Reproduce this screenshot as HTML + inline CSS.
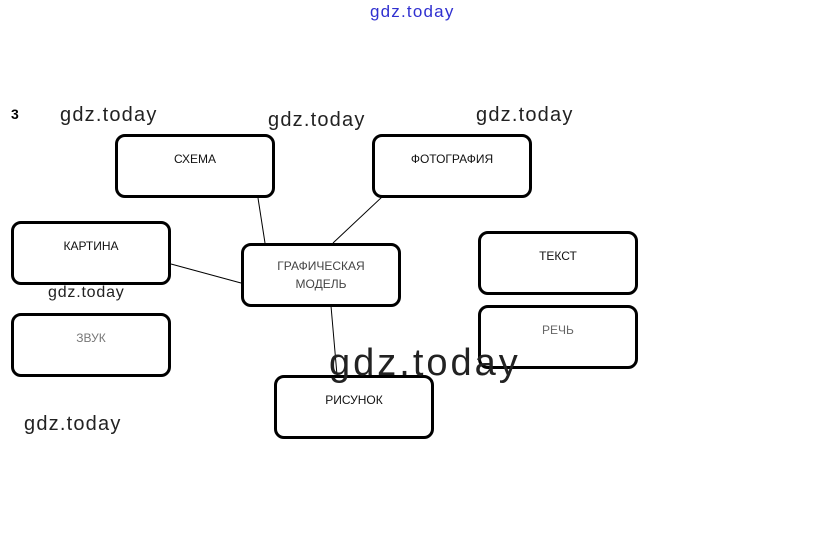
<!DOCTYPE html>
<html><head><meta charset="utf-8"><style>
body{margin:0;width:823px;height:549px;background:#fff;position:relative;overflow:hidden;font-family:"Liberation Sans",sans-serif}
.b{position:absolute;border:3px solid #000;border-radius:10px;box-sizing:border-box;width:160px;height:64px;text-align:center;font-size:12px;color:#111;padding-top:15px}
.w{position:absolute;font-size:20px;color:#222;letter-spacing:1.2px;font-weight:300}
</style></head><body>
<div style="position:absolute;left:370px;top:2px;font-size:17px;color:#3030d0;letter-spacing:1.2px">gdz.today</div>
<div style="position:absolute;left:11px;top:106px;font-size:14px;font-weight:bold">3</div>
<svg style="position:absolute;left:0;top:0" width="823" height="549">
<g stroke="#000" stroke-width="1">
<line x1="258" y1="198" x2="265" y2="243"/>
<line x1="382" y1="197" x2="333" y2="243"/>
<line x1="171" y1="264" x2="241" y2="283"/>
<line x1="331" y1="306" x2="337" y2="375"/>
</g></svg>
<div class="b" style="left:115px;top:134px">СХЕМА</div>
<div class="b" style="left:372px;top:134px">ФОТОГРАФИЯ</div>
<div class="b" style="left:11px;top:221px">КАРТИНА</div>
<div class="b" style="left:241px;top:243px;padding-top:11px;line-height:18px;color:#444">ГРАФИЧЕСКАЯ<br>МОДЕЛЬ</div>
<div class="b" style="left:478px;top:231px">ТЕКСТ</div>
<div class="b" style="left:11px;top:313px;color:#777">ЗВУК</div>
<div class="b" style="left:478px;top:305px;color:#666">РЕЧЬ</div>
<div class="b" style="left:274px;top:375px">РИСУНОК</div>
<div class="w" style="left:60px;top:104px">gdz.today</div>
<div class="w" style="left:268px;top:109px">gdz.today</div>
<div class="w" style="left:476px;top:104px">gdz.today</div>
<div class="w" style="left:48px;top:284px;font-size:16px;letter-spacing:0.8px">gdz.today</div>
<div class="w" style="left:24px;top:413px">gdz.today</div>
<div class="w" style="left:329px;top:342px;font-size:38px;letter-spacing:3px">gdz.today</div>
</body></html>
